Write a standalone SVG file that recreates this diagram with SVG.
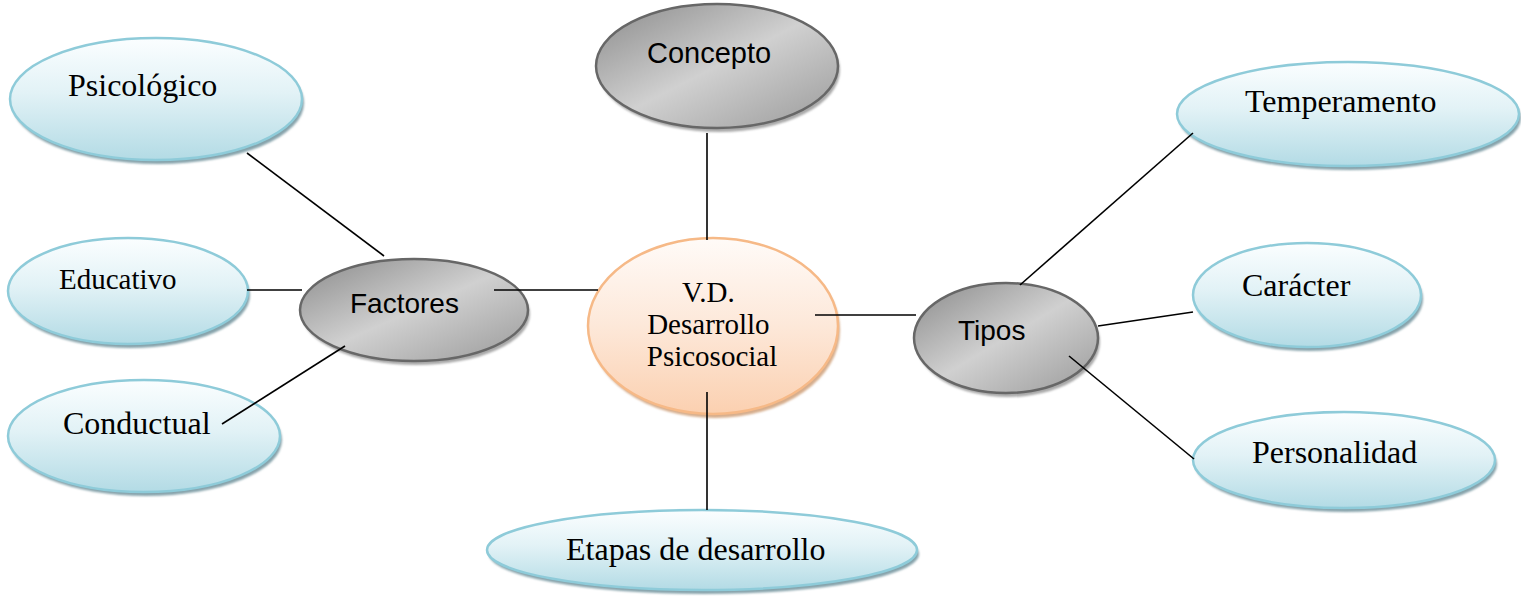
<svg xmlns="http://www.w3.org/2000/svg" width="1521" height="600" viewBox="0 0 1521 600">
<defs>
  <linearGradient id="gBlue" x1="0" y1="0" x2="0" y2="1">
    <stop offset="0" stop-color="#fbfeff"/>
    <stop offset="0.45" stop-color="#e2f2f6"/>
    <stop offset="1" stop-color="#b3dbe5"/>
  </linearGradient>
  <linearGradient id="gGrey" x1="0" y1="0" x2="1" y2="1">
    <stop offset="0" stop-color="#8a8a8a"/>
    <stop offset="0.5" stop-color="#d0d0d0"/>
    <stop offset="1" stop-color="#9a9a9a"/>
  </linearGradient>
  <linearGradient id="gOrange" x1="0" y1="0" x2="0" y2="1">
    <stop offset="0" stop-color="#fffbf8"/>
    <stop offset="0.5" stop-color="#fde8d9"/>
    <stop offset="1" stop-color="#fbd0b0"/>
  </linearGradient>
  <filter id="soft" x="-10%" y="-10%" width="120%" height="130%">
    <feGaussianBlur stdDeviation="1.2"/>
  </filter>
</defs>
<style>
  .blue { fill: url(#gBlue); stroke: #8ecbd9; stroke-width: 2.5; }
  .grey { fill: url(#gGrey); stroke: #676767; stroke-width: 2.5; }
  .orange { fill: url(#gOrange); stroke: #f6b987; stroke-width: 2.5; }
  .shB { fill: #86a3ab; filter: url(#soft); }
  .shG { fill: #a9a9a9; filter: url(#soft); }
  .shO { fill: #d6ad8c; filter: url(#soft); }
  .serif { font-family: "Liberation Serif", "Times New Roman", serif; font-size: 32px; fill: #000; }
  .sans { font-family: "Liberation Sans", Arial, sans-serif; fill: #000; }
  .conn line { stroke: #000; stroke-width: 1.6; }
</style>
<rect width="1521" height="600" fill="#ffffff"/>

<g id="psicologico">
  <ellipse class="shB" cx="158" cy="103" rx="146" ry="61"/>
  <ellipse class="blue" cx="156" cy="99" rx="146" ry="61"/>
  <text class="serif" x="68" y="96">Psicológico</text>
</g>
<g id="educativo">
  <ellipse class="shB" cx="130" cy="295" rx="120" ry="53"/>
  <ellipse class="blue" cx="128" cy="291" rx="120" ry="53"/>
  <text class="serif" x="59" y="289" style="font-size:29px">Educativo</text>
</g>
<g id="conductual">
  <ellipse class="shB" cx="146" cy="440" rx="136" ry="56"/>
  <ellipse class="blue" cx="144" cy="436" rx="136" ry="56"/>
  <text class="serif" x="63" y="434">Conductual</text>
</g>
<g id="factores">
  <ellipse class="shG" cx="416" cy="314" rx="114" ry="51"/>
  <ellipse class="grey" cx="414" cy="310" rx="114" ry="51"/>
  <text class="sans" x="350" y="313" style="font-size:28px">Factores</text>
</g>
<g id="concepto">
  <ellipse class="shG" cx="719" cy="70" rx="121" ry="62"/>
  <ellipse class="grey" cx="717" cy="66" rx="121" ry="62"/>
  <text class="sans" x="647" y="63" style="font-size:29px">Concepto</text>
</g>
<g id="vd">
  <ellipse class="shO" cx="715" cy="330" rx="125" ry="88"/>
  <ellipse class="orange" cx="713" cy="326" rx="125" ry="88"/>
  <text class="serif" text-anchor="middle" style="font-size:29px">
    <tspan x="712" y="302">V.D.</tspan>
    <tspan x="712" y="334">Desarrollo</tspan>
    <tspan x="712" y="366">Psicosocial</tspan>
  </text>
</g>
<g id="etapas">
  <ellipse class="shB" cx="704" cy="554" rx="215" ry="40"/>
  <ellipse class="blue" cx="702" cy="550" rx="215" ry="40"/>
  <text class="serif" x="566" y="560">Etapas de desarrollo</text>
</g>
<g id="tipos">
  <ellipse class="shG" cx="1008" cy="342" rx="92" ry="55"/>
  <ellipse class="grey" cx="1006" cy="338" rx="92" ry="55"/>
  <text class="sans" x="958" y="340" style="font-size:28px">Tipos</text>
</g>
<g id="temperamento">
  <ellipse class="shB" cx="1350" cy="118" rx="171" ry="52"/>
  <ellipse class="blue" cx="1348" cy="114" rx="171" ry="52"/>
  <text class="serif" x="1245" y="112">Temperamento</text>
</g>
<g id="caracter">
  <ellipse class="shB" cx="1309" cy="299" rx="114" ry="52"/>
  <ellipse class="blue" cx="1307" cy="295" rx="114" ry="52"/>
  <text class="serif" x="1242" y="296">Carácter</text>
</g>
<g id="personalidad">
  <ellipse class="shB" cx="1346" cy="464" rx="151" ry="48"/>
  <ellipse class="blue" cx="1344" cy="460" rx="151" ry="48"/>
  <text class="serif" x="1252" y="463">Personalidad</text>
</g>

<g id="connectors" class="conn">
  <line x1="247" y1="153" x2="384" y2="256"/>
  <line x1="247" y1="290" x2="302" y2="290"/>
  <line x1="222" y1="424" x2="345" y2="346"/>
  <line x1="494" y1="290" x2="598" y2="290"/>
  <line x1="707" y1="133" x2="707" y2="240"/>
  <line x1="707" y1="392" x2="707" y2="510"/>
  <line x1="815" y1="315" x2="916" y2="315"/>
  <line x1="1020" y1="285" x2="1193" y2="133"/>
  <line x1="1098" y1="326" x2="1193" y2="312"/>
  <line x1="1069" y1="356" x2="1194" y2="459"/>
</g>
</svg>
